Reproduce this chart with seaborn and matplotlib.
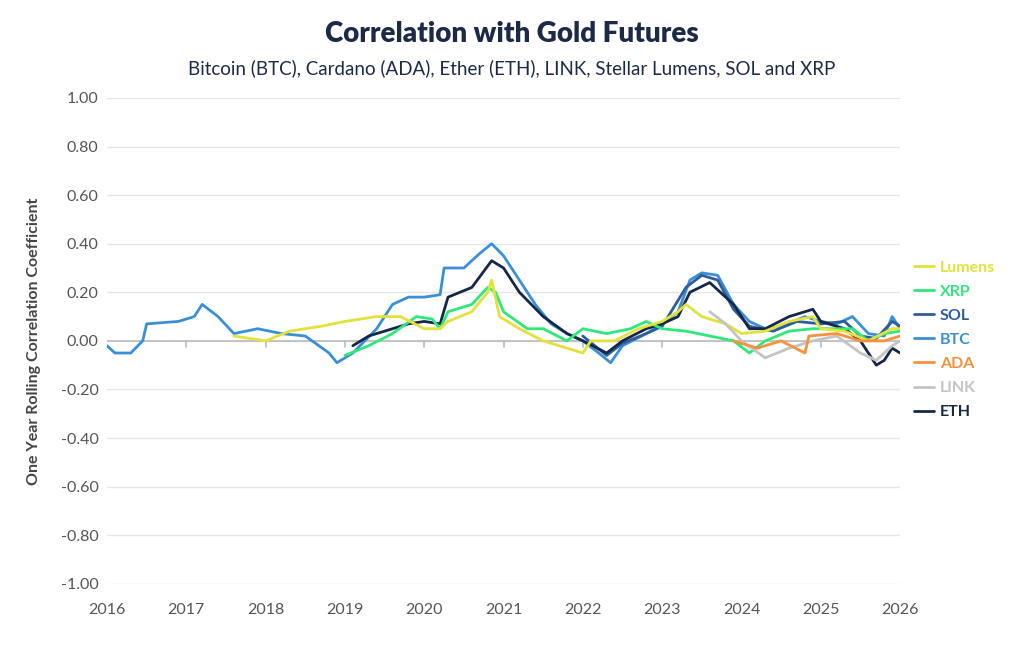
import matplotlib
matplotlib.use("Agg")
import matplotlib.pyplot as plt
import seaborn as sns
import pandas as pd

sns.set_theme(style="white")
plt.rcParams['font.family'] = ['Lato', 'DejaVu Sans']

btc_x = [2016.0,2016.1,2016.3,2016.45,2016.5,2016.9,2017.1,2017.2,2017.4,2017.6,2017.9,2018.2,2018.5,2018.8,2018.9,2019.1,2019.4,2019.6,2019.8,2020.0,2020.2,2020.25,2020.5,2020.7,2020.85,2021.0,2021.2,2021.4,2021.6,2021.8,2022.0,2022.2,2022.35,2022.5,2022.8,2023.0,2023.2,2023.35,2023.5,2023.7,2023.9,2024.1,2024.3,2024.5,2024.8,2025.0,2025.2,2025.4,2025.6,2025.8,2025.9,2026.0]
btc_y = [-0.02,-0.05,-0.05,0.0,0.07,0.08,0.10,0.15,0.10,0.03,0.05,0.03,0.02,-0.05,-0.09,-0.05,0.05,0.15,0.18,0.18,0.19,0.30,0.30,0.36,0.40,0.35,0.25,0.15,0.07,0.03,0.0,-0.05,-0.09,-0.02,0.03,0.07,0.12,0.25,0.28,0.27,0.15,0.08,0.05,0.06,0.10,0.08,0.07,0.10,0.03,0.02,0.10,0.05]
eth_x = [2019.1,2019.3,2019.6,2019.8,2020.0,2020.2,2020.3,2020.6,2020.85,2021.0,2021.2,2021.5,2021.8,2022.0,2022.3,2022.5,2022.8,2023.0,2023.2,2023.35,2023.6,2023.9,2024.1,2024.3,2024.6,2024.9,2025.0,2025.3,2025.5,2025.7,2025.8,2025.9,2026.0]
eth_y = [-0.02,0.02,0.05,0.07,0.08,0.07,0.18,0.22,0.33,0.30,0.20,0.10,0.03,0.0,-0.05,0.0,0.05,0.07,0.10,0.20,0.24,0.15,0.05,0.05,0.10,0.13,0.08,0.05,0.0,-0.10,-0.08,-0.03,-0.05]
xrp_x = [2019.0,2019.3,2019.6,2019.9,2020.1,2020.2,2020.3,2020.6,2020.8,2020.9,2021.0,2021.3,2021.5,2021.8,2022.0,2022.3,2022.6,2022.8,2023.0,2023.3,2023.6,2023.9,2024.1,2024.3,2024.6,2024.9,2025.1,2025.4,2025.6,2025.8,2026.0]
xrp_y = [-0.06,-0.02,0.03,0.10,0.09,0.05,0.12,0.15,0.22,0.20,0.12,0.05,0.05,0.0,0.05,0.03,0.05,0.08,0.05,0.04,0.02,0.0,-0.05,0.0,0.04,0.05,0.05,0.05,0.0,0.03,0.04]
lum_x = [2017.6,2018.0,2018.3,2018.7,2019.0,2019.4,2019.7,2020.0,2020.2,2020.3,2020.6,2020.8,2020.85,2020.95,2021.2,2021.5,2021.8,2022.0,2022.1,2022.4,2022.7,2023.0,2023.2,2023.3,2023.5,2023.8,2024.0,2024.3,2024.6,2024.9,2025.0,2025.3,2025.6,2025.9,2026.0]
lum_y = [0.02,0.0,0.04,0.06,0.08,0.10,0.10,0.05,0.05,0.08,0.12,0.20,0.25,0.10,0.05,0.0,-0.03,-0.05,0.0,0.0,0.05,0.08,0.12,0.15,0.10,0.07,0.03,0.04,0.08,0.10,0.05,0.04,0.0,0.05,0.05]
sol_x = [2022.0,2022.3,2022.5,2022.8,2023.0,2023.3,2023.5,2023.7,2023.9,2024.1,2024.4,2024.7,2025.0,2025.3,2025.5,2025.7,2025.9,2026.0]
sol_y = [0.02,-0.06,-0.01,0.03,0.06,0.22,0.27,0.25,0.13,0.06,0.04,0.08,0.07,0.08,0.02,0.01,0.08,0.06]
ada_x = [2023.9,2024.2,2024.5,2024.8,2024.85,2025.2,2025.5,2025.8,2026.0]
ada_y = [0.0,-0.03,0.0,-0.05,0.02,0.03,0.0,0.0,0.02]
link_x = [2023.6,2023.8,2024.0,2024.3,2024.6,2024.9,2025.2,2025.5,2025.7,2025.9,2026.0]
link_y = [0.12,0.07,0.0,-0.07,-0.03,0.0,0.02,-0.05,-0.08,-0.02,0.0]

series = [
    ("Lumens", lum_x, lum_y, "#e2e23a"),
    ("XRP", xrp_x, xrp_y, "#2ee87a"),
    ("SOL", sol_x, sol_y, "#2d5e9a"),
    ("BTC", btc_x, btc_y, "#3a8fd8"),
    ("ADA", ada_x, ada_y, "#f7923a"),
    ("LINK", link_x, link_y, "#c4c4c4"),
    ("ETH", eth_x, eth_y, "#15284a"),
]
draw_order = ["BTC", "SOL", "ETH", "XRP", "Lumens", "LINK", "ADA"]

fig = plt.figure(figsize=(10.24, 6.53), dpi=100)
ax = fig.add_axes([0.1045, 0.106, 0.7745, 0.744])
for name in draw_order:
    for n, x, y, c in series:
        if n == name:
            df = pd.DataFrame({"x": x, "y": y})
            sns.lineplot(data=df, x="x", y="y", ax=ax, color=c, lw=2, label=n)
leg_h, leg_l = ax.get_legend_handles_labels()
m = dict(zip(leg_l, leg_h))
ax.legend([m[s[0]] for s in series], [s[0] for s in series], loc="upper left",
          bbox_to_anchor=(1.0, 0.695), frameon=False, labelcolor="linecolor",
          handlelength=1.2, handletextpad=0.4, labelspacing=0.62,
          prop={"size": 11.5, "weight": "bold"})

ax.set_xlim(2016, 2026)
ax.set_ylim(-1.0, 1.0)
ax.set_xticks(range(2016, 2027))
ax.set_xticklabels([str(v) for v in range(2016, 2027)])
yt = [round(-1 + 0.2 * i, 1) for i in range(11)]
ax.set_yticks(yt)
ax.set_yticklabels([f"{v:.2f}" for v in yt])
ax.grid(axis="y", color="#e6e6e6", lw=1)
ax.axhline(0, color="#bbbbbb", lw=1.2, zorder=1)
for xv in range(2017, 2026):
    ax.plot([xv, xv], [0, -0.025], color="#bbbbbb", lw=1.2, zorder=1)
for s in ax.spines.values():
    s.set_visible(False)
ax.tick_params(axis="both", colors="#555555", labelsize=11.5, length=0)
ax.tick_params(axis="x", pad=14)
ax.tick_params(axis="y", pad=6)
ax.set_xlabel("")
ax.set_ylabel("One Year Rolling Correlation Coefficient", fontsize=11.5,
              fontweight="bold", color="#444444", labelpad=14)
fig.text(0.5, 0.948, "Correlation with Gold Futures", ha="center", va="center",
         fontsize=20, fontweight="heavy", color="#1b2a47")
fig.text(0.5, 0.896, "Bitcoin (BTC), Cardano (ADA), Ether (ETH), LINK, Stellar Lumens, SOL and XRP",
         ha="center", va="center", fontsize=13.5, color="#1b2a47")
fig.savefig("out.png", dpi=100)
